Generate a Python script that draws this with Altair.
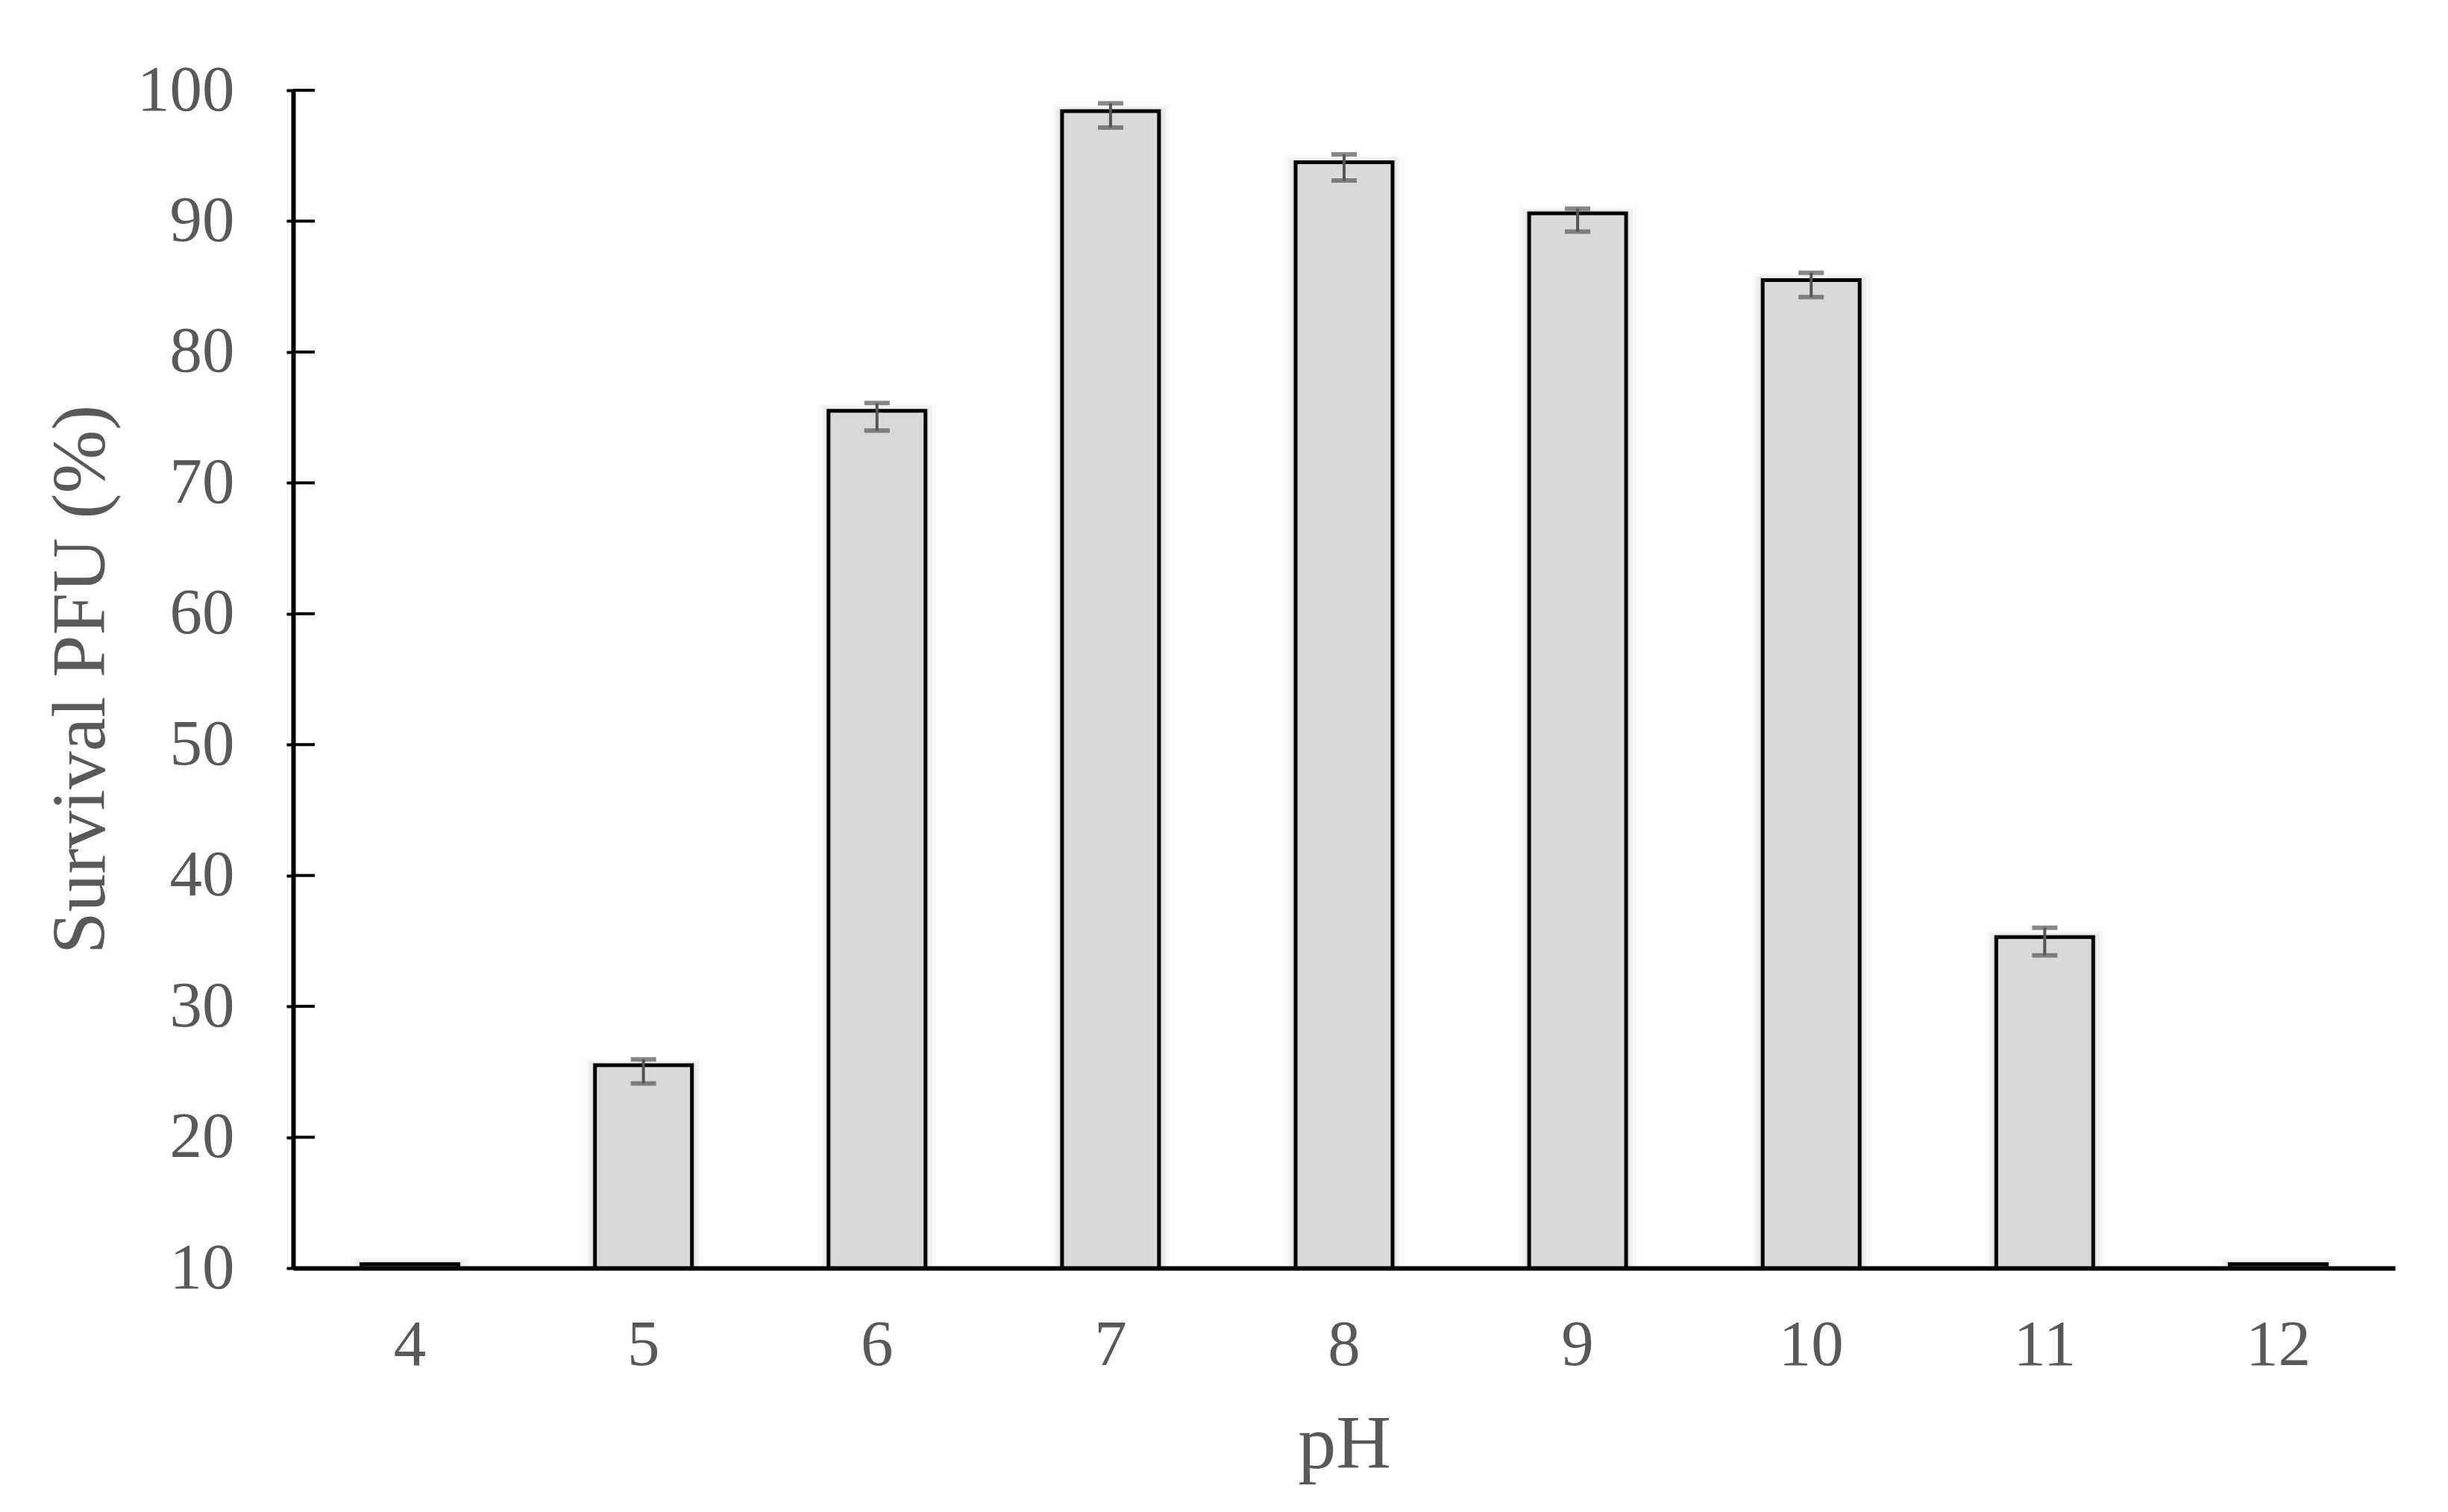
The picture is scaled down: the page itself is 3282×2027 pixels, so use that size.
import altair as alt
import pandas as pd

# values
ph_levels = ["4", "5", "6", "7", "8", "9", "10", "11", "12"]
survival = [10.3, 25.5, 75.5, 98.4, 94.5, 90.6, 85.5, 35.3, 10.3]
err_upper = [0.0, 0.45, 0.6, 0.6, 0.6, 0.35, 0.55, 0.7, 0.0]
err_lower = [0.0, 1.4, 1.5, 1.25, 1.4, 1.4, 1.3, 1.4, 0.0]
y_ticks = [10, 20, 30, 40, 50, 60, 70, 80, 90, 100]

df = pd.DataFrame(
    {"pH": ph_levels, "survival": survival, "up": err_upper, "down": err_lower}
)
df["hi"] = df["survival"] + df["up"]
df["lo"] = df["survival"] - df["down"]
err = df[df["up"] > 0]
ticks_df = pd.DataFrame({"tick": y_ticks})

TEXT = "#595959"
ERR = "#555555"
FONT = "Liberation Serif"

y_scale = alt.Scale(domain=[10, 100], nice=False, zero=False)

x = alt.X(
    "pH:N",
    sort=ph_levels,
    scale=alt.Scale(paddingInner=0.585, paddingOuter=0.2925),
    axis=alt.Axis(
        title="pH",
        labelAngle=0,
        ticks=False,
        domainColor="black",
        domainWidth=6,
        labelPadding=60,
        titlePadding=40,
    ),
)

# soft shadow around the bars
shadows = [
    alt.Chart(df)
    .mark_bar(color="black", opacity=op, width={"band": band}, yOffset=off)
    .encode(x=x, y=alt.Y("survival:Q", scale=y_scale, axis=None), y2=alt.datum(10))
    for band, op, off in [(1.22, 0.025, -9), (1.14, 0.04, -6), (1.07, 0.06, -3)]
]

bars = (
    alt.Chart(df)
    .mark_bar(color="#d9d9d9", stroke="black", strokeWidth=5)
    .encode(
        x=x,
        y=alt.Y(
            "survival:Q",
            scale=y_scale,
            axis=alt.Axis(
                orient="left",
                values=y_ticks,
                title="Survival PFU (%)",
                grid=False,
                domainColor="black",
                domainWidth=6,
                tickColor="black",
                tickSize=9,
                tickWidth=4,
                labelPadding=70,
                titlePadding=33,
            ),
        ),
        y2=alt.datum(10),
    )
)

# inner half of the crossing tick marks on the y axis
inner_ticks = (
    alt.Chart(ticks_df)
    .mark_rule(color="black", strokeWidth=4)
    .encode(
        y=alt.Y("tick:Q", scale=y_scale, axis=None),
        x=alt.value(0),
        x2=alt.value(29),
    )
)

whisker = (
    alt.Chart(err)
    .mark_rule(color=ERR, strokeWidth=4)
    .encode(x=x, y=alt.Y("lo:Q", scale=y_scale, axis=None), y2="hi:Q")
)

cap_hi = (
    alt.Chart(err)
    .mark_tick(color=ERR, thickness=6, size=34)
    .encode(x=x, y=alt.Y("hi:Q", scale=y_scale, axis=None))
)
cap_lo = (
    alt.Chart(err)
    .mark_tick(color=ERR, thickness=6, size=34)
    .encode(x=x, y=alt.Y("lo:Q", scale=y_scale, axis=None))
)

chart = (
    alt.layer(*shadows, bars, inner_ticks, whisker, cap_hi, cap_lo)
    .resolve_scale(y="shared")
    .resolve_axis(y="independent")
    .properties(
        width=2818,
        height=1579,
        autosize=alt.AutoSizeParams(type="none"),
        padding={"left": 385, "top": 113, "right": 55, "bottom": 300},
    )
    .configure_view(stroke=None)
    .configure_axis(
        labelFont=FONT,
        labelFontSize=87,
        labelColor=TEXT,
        titleFont=FONT,
        titleFontSize=102,
        titleColor=TEXT,
        titleFontWeight="normal",
    )
)

chart.save("out.html", embed_options={"renderer": "svg", "actions": False})
